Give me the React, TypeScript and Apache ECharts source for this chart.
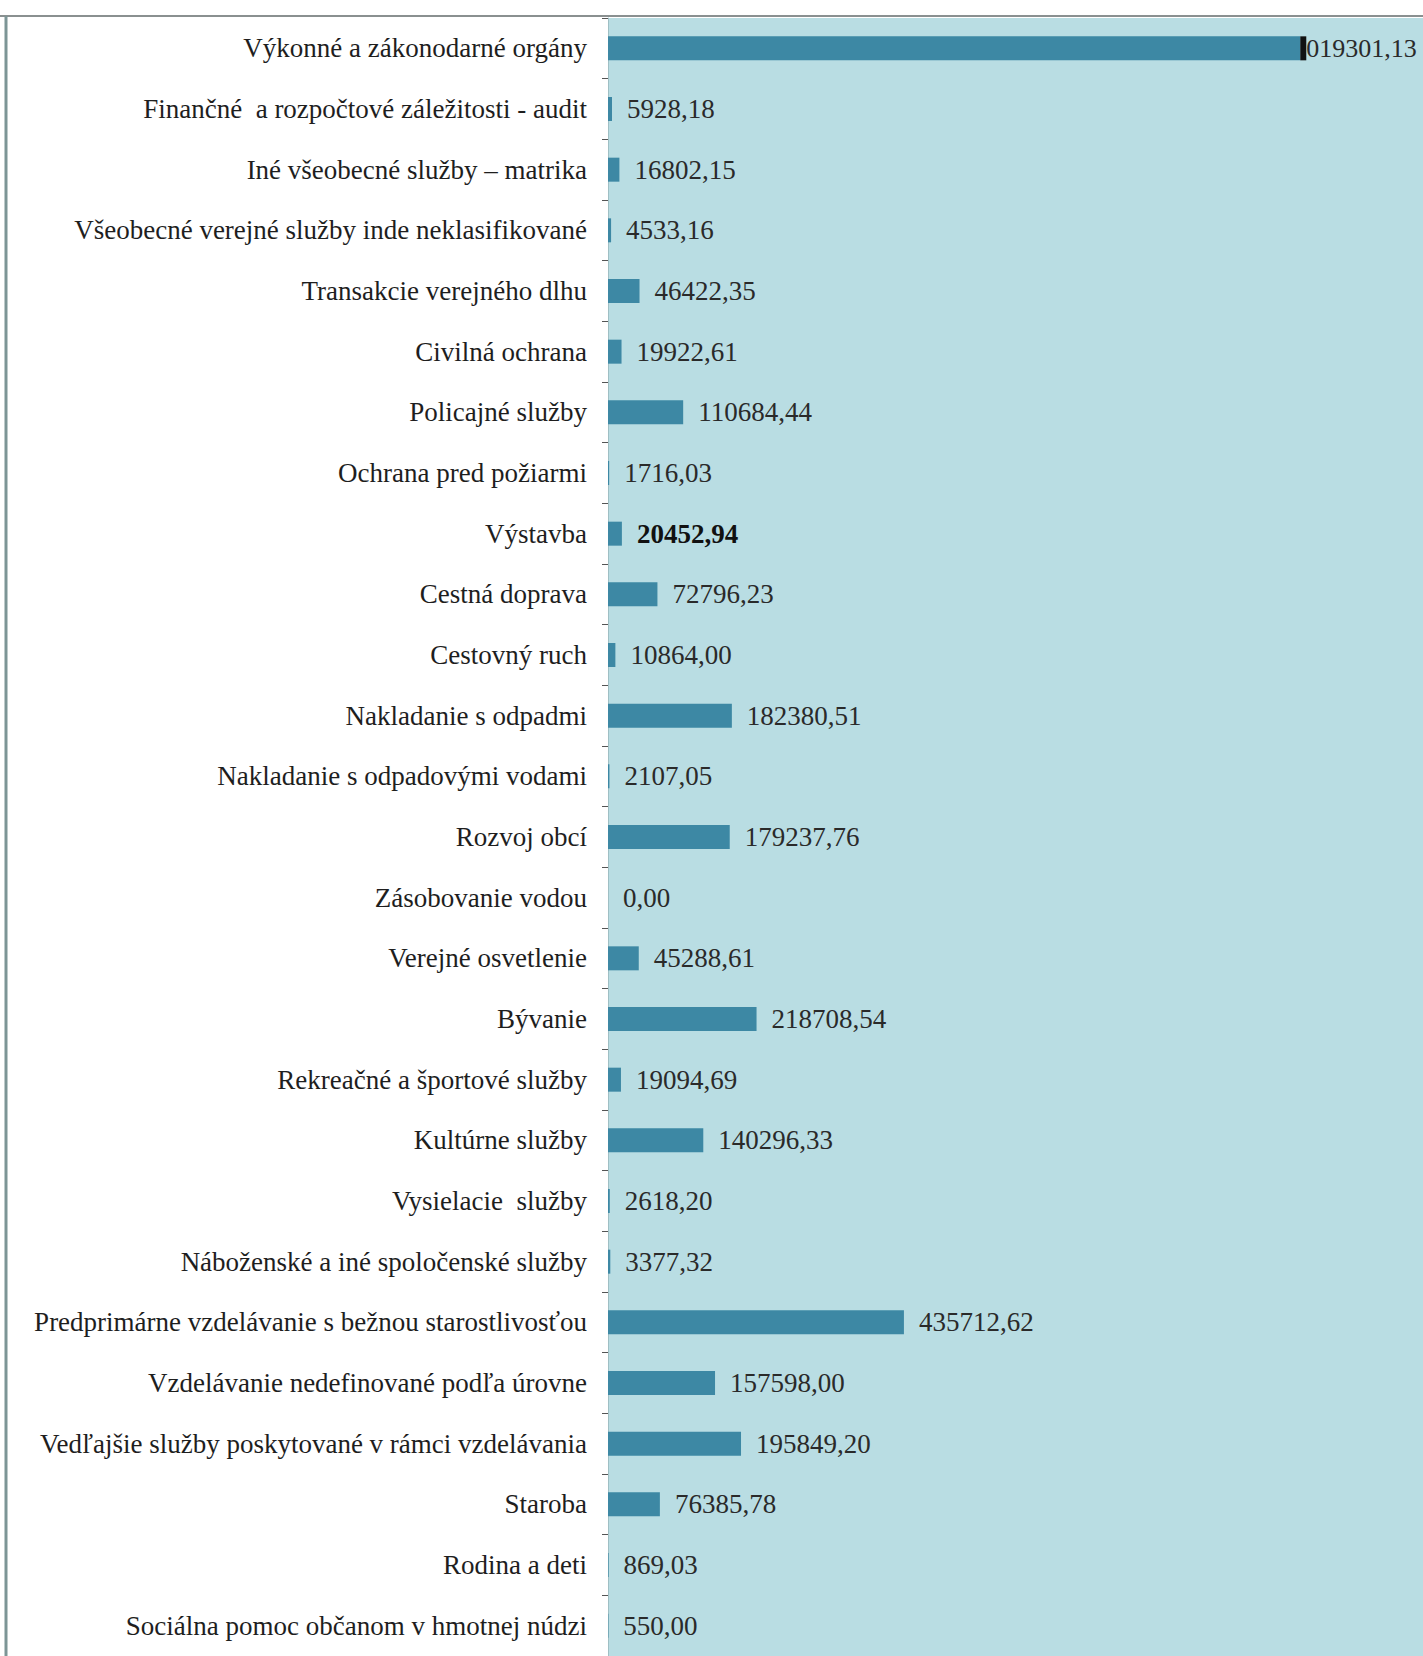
import React, { useEffect, useRef } from "react";
import * as echarts from "echarts";

const categories = [
  "Výkonné a zákonodarné orgány",
  "Finančné  a rozpočtové záležitosti - audit",
  "Iné všeobecné služby – matrika",
  "Všeobecné verejné služby inde neklasifikované",
  "Transakcie verejného dlhu",
  "Civilná ochrana",
  "Policajné služby",
  "Ochrana pred požiarmi",
  "Výstavba",
  "Cestná doprava",
  "Cestovný ruch",
  "Nakladanie s odpadmi",
  "Nakladanie s odpadovými vodami",
  "Rozvoj obcí",
  "Zásobovanie vodou",
  "Verejné osvetlenie",
  "Bývanie",
  "Rekreačné a športové služby",
  "Kultúrne služby",
  "Vysielacie  služby",
  "Náboženské a iné spoločenské služby",
  "Predprimárne vzdelávanie s bežnou starostlivosťou",
  "Vzdelávanie nedefinované podľa úrovne",
  "Vedľajšie služby poskytované v rámci vzdelávania",
  "Staroba",
  "Rodina a deti",
  "Sociálna pomoc občanom v hmotnej núdzi",
];

const values = [
  1019301.13, 5928.18, 16802.15, 4533.16, 46422.35, 19922.61, 110684.44,
  1716.03, 20452.94, 72796.23, 10864.0, 182380.51, 2107.05, 179237.76, 0.0,
  45288.61, 218708.54, 19094.69, 140296.33, 2618.2, 3377.32, 435712.62,
  157598.0, 195849.2, 76385.78, 869.03, 550.0,
];

const boldValueCategories = ["Výstavba"];
const xMax = 1200000;

const fmt = (v: number) => v.toFixed(2).replace(".", ",");

export default function App() {
  const ref = useRef<HTMLDivElement>(null);

  useEffect(() => {
    document.body.style.margin = "0";
    if (!ref.current) return;
    const chart = echarts.init(ref.current, undefined, { renderer: "svg" });
    const font = "'Liberation Serif', 'Times New Roman', serif";

    const data = values.map((v, i) => {
      const item: any = { value: v };
      if (i === 0) {
        item.label = {
          distance: 0,
          fontSize: 26,
          formatter: (p: any) => {
            const s = fmt(p.value);
            return "{blk|" + s.charAt(0) + "}" + s.slice(1);
          },
        };
      }
      if (boldValueCategories.includes(categories[i])) {
        item.label = { fontWeight: "bold", color: "#111" };
      }
      return item;
    });

    chart.setOption({
      animation: false,
      backgroundColor: "#ffffff",
      graphic: [
        {
          type: "line",
          shape: { x1: 0, y1: 16, x2: 1423, y2: 16 },
          style: { stroke: "#8a9090", lineWidth: 2 },
          z: 10,
        },
        {
          type: "line",
          shape: { x1: 6, y1: 16, x2: 6, y2: 1656 },
          style: { stroke: "#7d9596", lineWidth: 3 },
          z: 10,
        },
      ],
      grid: {
        left: 608,
        right: 0,
        top: 18,
        bottom: -2,
        show: true,
        backgroundColor: "#b9dde3",
        borderWidth: 0,
      },
      xAxis: {
        type: "value",
        min: 0,
        max: xMax,
        show: false,
      },
      yAxis: {
        type: "category",
        data: categories,
        inverse: true,
        axisLine: { show: true, lineStyle: { color: "#9fbfc4", width: 1 } },
        axisTick: { show: true, length: 6, lineStyle: { color: "#555" } },
        axisLabel: {
          margin: 21,
          fontFamily: font,
          fontSize: 27,
          color: "#1e1e1e",
        },
      },
      series: [
        {
          type: "bar",
          data,
          barWidth: 24,
          itemStyle: { color: "#3d88a4" },
          label: {
            show: true,
            position: "right",
            distance: 15,
            fontFamily: font,
            fontSize: 27,
            color: "#2a2a2a",
            formatter: (p: any) => fmt(p.value),
            rich: {
              blk: {
                fontFamily: font,
                fontSize: 12,
                lineHeight: 12,
                padding: [6, 0],
                color: "#111",
                backgroundColor: "#111",
              },
            },
          },
        },
      ],
    });

    return () => chart.dispose();
  }, []);

  return <div ref={ref} style={{ width: 1423, height: 1656 }} />;
}
